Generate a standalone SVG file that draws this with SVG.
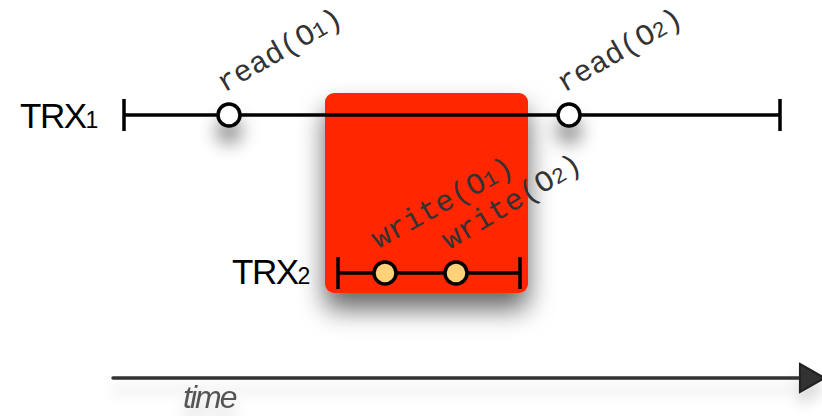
<svg xmlns="http://www.w3.org/2000/svg" width="822" height="416" viewBox="0 0 822 416">
<defs>
<style>
.lbl{font-family:"Liberation Mono","Courier New",monospace;font-size:30px;fill:#333}
.sub{font-size:22px}
.trx{font-family:"Liberation Sans",Arial,sans-serif;font-size:35px;fill:#000;letter-spacing:-1.5px}
.trxs{font-size:23px}
.line{stroke:#000;stroke-width:3.5;fill:none}
.tick{stroke:#000;stroke-width:3.5}
.ev1{fill:#fff;stroke:#000;stroke-width:3.5}
.ev2{fill:#ffd27a;stroke:#000;stroke-width:3.5}
</style>
<filter id="sh" filterUnits="userSpaceOnUse" x="0" y="0" width="822" height="416">
<feDropShadow dx="0" dy="16" stdDeviation="9" flood-color="#000" flood-opacity="0.45"/>
</filter>
<filter id="shb" filterUnits="userSpaceOnUse" x="0" y="0" width="822" height="416">
<feDropShadow dx="0" dy="16" stdDeviation="13" flood-color="#000" flood-opacity="0.6"/>
</filter>
<filter id="sha" filterUnits="userSpaceOnUse" x="0" y="300" width="822" height="116">
<feDropShadow dx="0" dy="12" stdDeviation="7" flood-color="#000" flood-opacity="0.15"/>
</filter>
<marker id="arr" markerWidth="8" markerHeight="10" refX="1" refY="5" orient="auto" markerUnits="strokeWidth">
<path d="M1,1 L8,5 L1,9 Z" fill="#333" stroke="#222" stroke-width="0.6"/>
</marker>
</defs>
<g id="box">
<rect x="325" y="93" width="203" height="200" rx="9" fill="#ff2600" filter="url(#shb)"/>
</g>
<g id="connectors">
<line class="line" x1="124" y1="115" x2="780" y2="115"/>
<line class="tick" x1="124" y1="99" x2="124" y2="131"/>
<line class="tick" x1="780" y1="99" x2="780" y2="131"/>
<line class="line" x1="338" y1="273" x2="520" y2="273"/>
<line class="tick" x1="338" y1="257" x2="338" y2="289"/>
<line class="tick" x1="520" y1="257" x2="520" y2="289"/>
</g>
<g id="trx1">
<text class="trx" x="20" y="128">TRX<tspan class="trxs">1</tspan></text>
</g>
<g id="trx2">
<text class="trx" x="232" y="284">TRX<tspan class="trxs">2</tspan></text>
</g>
<g id="read1">
<circle class="ev1" cx="229" cy="115" r="11" filter="url(#sh)"/>
<text class="lbl" transform="translate(224,93) rotate(-30)">read(O<tspan class="sub">1</tspan>)</text>
</g>
<g id="read2">
<circle class="ev1" cx="569" cy="115" r="11" filter="url(#sh)"/>
<text class="lbl" transform="translate(564,93) rotate(-30)">read(O<tspan class="sub">2</tspan>)</text>
</g>
<g id="write1">
<circle class="ev2" cx="385" cy="273" r="11"/>
<text class="lbl" transform="translate(378,249) rotate(-29)">write(O<tspan class="sub">1</tspan>)</text>
</g>
<g id="write2">
<circle class="ev2" cx="456" cy="273" r="11"/>
<text class="lbl" transform="translate(449,250) rotate(-31)">write(O<tspan class="sub">2</tspan>)</text>
</g>
<g id="axis" filter="url(#sha)">
<line x1="113" y1="378" x2="800" y2="378" stroke="#333" stroke-width="3.5" stroke-linecap="round" marker-end="url(#arr)"/>
<text x="183" y="408" font-family="'Liberation Sans',Arial,sans-serif" font-size="32" font-style="italic" fill="#555" letter-spacing="-2">time</text>
</g>
</svg>
